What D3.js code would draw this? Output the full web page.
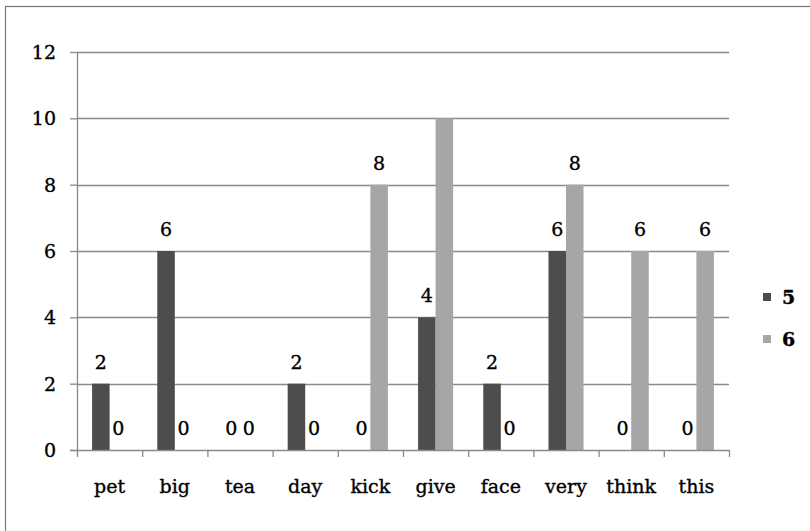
<!DOCTYPE html>
<html><head><meta charset="utf-8">
<script src="https://cdn.jsdelivr.net/npm/d3@7"></script>
<style>body{margin:0;background:#fff}svg{display:block}text{font-family:"DejaVu Serif",serif;fill:#000;stroke:#000;stroke-width:0.35px}</style>
</head><body>
<svg id="c" width="810" height="531"></svg>
<script>
const categories = ["pet","big","tea","day","kick","give","face","very","think","this"];
const seriesNames = ["5","6"];
const values5 = [2,6,0,2,0,4,2,6,0,0];
const values6 = [0,0,0,0,8,10,0,8,6,6];
const yTicks = [0,2,4,6,8,10,12];
const colors = ["#4d4d4d","#a6a6a6"];

const svg = d3.select("#c");
svg.append("rect").attr("x",5.5).attr("y",6.5).attr("width",900).attr("height",900)
  .attr("fill","none").attr("stroke","#777").attr("stroke-width",1.2);

const m = {l:77, r:729, t:52, b:450};
const x = d3.scaleBand().domain(categories).range([m.l,m.r]).paddingInner(0).paddingOuter(0);
const y = d3.scaleLinear().domain([0,12]).range([m.b,m.t]);
const xs = d3.scaleBand().domain(seriesNames).range([0,x.bandwidth()]).paddingInner(0).paddingOuter(0.86);

// grid
svg.append("g").selectAll("line").data(yTicks.filter(d=>d>0)).join("line")
  .attr("x1",m.l).attr("x2",m.r).attr("y1",d=>Math.round(y(d))+0.5).attr("y2",d=>Math.round(y(d))+0.5)
  .attr("stroke","#8a8a8a").attr("stroke-width",1.3);

// bars
const data = categories.map((c,i)=>({c, v:[values5[i],values6[i]]}));
const g = svg.append("g");
data.forEach(d=>{
  seriesNames.forEach((s,j)=>{
    const v = d.v[j];
    if (v>0) g.append("rect").attr("x",x(d.c)+xs(s)).attr("y",y(v)).attr("width",xs.bandwidth()).attr("height",y(0)-y(v)).attr("fill",colors[j]);
    if (v!==10) g.append("text").attr("x",x(d.c)+xs(s)+xs.bandwidth()/2).attr("y",y(v)-15)
      .attr("text-anchor","middle").attr("font-size",19).text(v);
  });
});

// axes
const ya = d3.axisLeft(y).tickValues(yTicks).tickSize(7).tickPadding(14);
const yg = svg.append("g").attr("transform",`translate(${m.l},0)`).call(ya);
yg.select(".domain").attr("stroke","#8a8a8a").attr("stroke-width",1.3).attr("d",`M0.5,${m.t}V${m.b}`);
yg.selectAll(".tick line").attr("stroke","#8a8a8a").attr("stroke-width",1.3);
yg.selectAll(".tick text").attr("font-size",19).attr("font-family","DejaVu Serif").attr("fill","#000").attr("dy","0.35em");

const xa = d3.axisBottom(x).tickSize(0).tickPadding(30);
const xg = svg.append("g").attr("transform",`translate(0,${m.b})`).call(xa);
xg.select(".domain").attr("stroke","#8a8a8a").attr("stroke-width",1.3).attr("d",`M${m.l-7},0.5H${m.r}`);
xg.selectAll(".tick text").attr("font-size",19).attr("font-family","DejaVu Serif").attr("fill","#000");
// category boundary ticks
svg.append("g").selectAll("line").data(categories.concat(["_end"])).join("line")
  .attr("x1",(d,i)=>m.l+i*x.bandwidth()+0.5).attr("x2",(d,i)=>m.l+i*x.bandwidth()+0.5)
  .attr("y1",m.b).attr("y2",m.b+7).attr("stroke","#8a8a8a").attr("stroke-width",1.3);

// legend
const lg = svg.append("g").attr("transform","translate(763,293)");
seriesNames.forEach((s,i)=>{
  lg.append("rect").attr("x",0).attr("y",i*42).attr("width",8).attr("height",8).attr("fill",colors[i]);
  lg.append("text").attr("x",19).attr("y",i*42+4).attr("dy","0.35em").attr("font-size",19).attr("font-weight","bold").text(s);
});
</script>
</body></html>
